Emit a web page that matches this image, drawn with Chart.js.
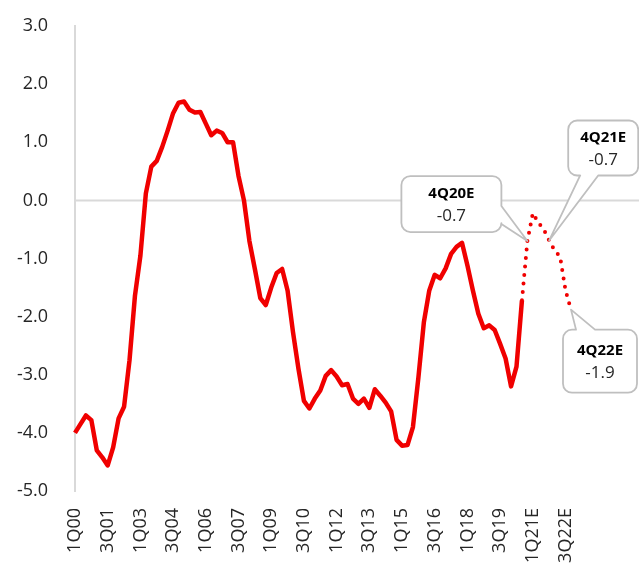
<!DOCTYPE html>
<html lang="en">
<head>
<meta charset="UTF-8">
<title>Chart</title>
<script src="https://cdn.jsdelivr.net/npm/chart.js"></script>
<style>
  body { margin: 0; background: #fff; }
  canvas { display: block; }
</style>
</head>
<body>
<canvas id="myChart" width="639" height="564"></canvas>
<script>
// quarters 1Q00 .. 4Q22E, estimates from 4Q20 onward
const firstEstimate = 83;
const quarters = [];
for (let y = 0; y <= 22; y++) {
    for (let q = 1; q <= 4; q++) {
        const i = quarters.length;
        quarters.push(q + 'Q' + String(y).padStart(2, '0') + (i >= firstEstimate ? 'E' : ''));
    }
}
const tickEvery = 6;

// actual, 1Q00 .. 3Q20
const actual = [
    -4.0, -3.85, -3.7, -3.78, -4.3, -4.42, -4.56, -4.25, -3.75, -3.55,
    -2.75, -1.64, -0.95, 0.12, 0.58, 0.68, 0.92, 1.2, 1.5, 1.68,
    1.7, 1.56, 1.51, 1.52, 1.32, 1.12, 1.2, 1.16, 1.0, 1.0,
    0.42, 0.0, -0.7, -1.18, -1.68, -1.8, -1.5, -1.25, -1.18, -1.55,
    -2.27, -2.9, -3.45, -3.58, -3.41, -3.27, -3.02, -2.92, -3.03, -3.18,
    -3.16, -3.41, -3.5, -3.41, -3.57, -3.25, -3.36, -3.48, -3.63, -4.12,
    -4.22, -4.21, -3.9, -3.05, -2.1, -1.55, -1.28, -1.34, -1.17, -0.92,
    -0.8, -0.73, -1.12, -1.55, -1.95, -2.2, -2.15, -2.23, -2.47, -2.72,
    -3.2, -2.86, -1.72
];
// forecast, 3Q20 (joins the actual line) .. 4Q22E
const forecastStart = 82;
const forecast = [-1.72, -0.7, -0.22, -0.38, -0.5, -0.69, -0.86, -0.97, -1.55, -1.88];

const callouts = [
    { index: 83, title: '4Q20E', value: '-0.7', dx: -126, dy: -65, w: 100, h: 56, side: 'right', base: [30, 48] },
    { index: 87, title: '4Q21E', value: '-0.7', dx: 19, dy: -120, w: 70, h: 55, side: 'bottom', base: [12, 30] },
    { index: 91, title: '4Q22E', value: '-1.9', dx: -8, dy: 20, w: 74, h: 63, side: 'top', base: [13, 32] }
];

const actualData = quarters.map((q, i) => i < actual.length ? actual[i] : null);
const forecastData = quarters.map((q, i) => i >= forecastStart ? forecast[i - forecastStart] : null);

const RED = '#f00000';
const GREY = '#d9d9d9';
const FONT = "'Open Sans', 'DejaVu Sans', sans-serif";

const zeroLine = {
    id: 'zeroLine',
    beforeDatasetsDraw(chart) {
        const { ctx, chartArea, scales } = chart;
        const y = scales.y.getPixelForValue(0);
        ctx.save();
        ctx.strokeStyle = GREY;
        ctx.lineWidth = 2;
        ctx.beginPath();
        ctx.moveTo(chartArea.left, y);
        ctx.lineTo(chart.width, y);
        ctx.stroke();
        ctx.restore();
    }
};

function calloutPath(ctx, x, y, w, h, r, side, base, tip) {
    ctx.beginPath();
    ctx.moveTo(x + r, y);
    if (side === 'top') {
        ctx.lineTo(x + base[0], y);
        ctx.lineTo(tip.x, tip.y);
        ctx.lineTo(x + base[1], y);
    }
    ctx.arcTo(x + w, y, x + w, y + h, r);
    if (side === 'right') {
        ctx.lineTo(x + w, y + base[0]);
        ctx.lineTo(tip.x, tip.y);
        ctx.lineTo(x + w, y + base[1]);
    }
    ctx.arcTo(x + w, y + h, x, y + h, r);
    if (side === 'bottom') {
        ctx.lineTo(x + base[1], y + h);
        ctx.lineTo(tip.x, tip.y);
        ctx.lineTo(x + base[0], y + h);
    }
    ctx.arcTo(x, y + h, x, y, r);
    ctx.arcTo(x, y, x + w, y, r);
    ctx.closePath();
}

const calloutLabels = {
    id: 'calloutLabels',
    afterDatasetsDraw(chart) {
        const { ctx, scales } = chart;
        ctx.save();
        callouts.forEach(c => {
            const v = c.index >= forecastStart ? forecastData[c.index] : actualData[c.index];
            const tip = { x: scales.x.getPixelForValue(c.index), y: scales.y.getPixelForValue(v) };
            const bx = tip.x + c.dx, by = tip.y + c.dy;
            calloutPath(ctx, bx, by, c.w, c.h, 9, c.side, c.base, tip);
            ctx.fillStyle = '#fff';
            ctx.fill();
            ctx.strokeStyle = '#bfbfbf';
            ctx.lineWidth = 1.8;
            ctx.lineJoin = 'round';
            ctx.stroke();
            ctx.textAlign = 'center';
            ctx.textBaseline = 'middle';
            ctx.fillStyle = '#000';
            ctx.font = 'bold 15px ' + FONT;
            ctx.fillText(c.title, bx + c.w / 2, by + c.h / 2 - 10);
            ctx.fillStyle = '#262626';
            ctx.font = '17px ' + FONT;
            ctx.fillText(c.value, bx + c.w / 2, by + c.h / 2 + 12);
        });
        ctx.restore();
    }
};

new Chart(document.getElementById('myChart'), {
    type: 'line',
    data: {
        labels: quarters,
        datasets: [{
            label: 'Actual',
            data: actualData,
            borderColor: RED,
            borderWidth: 4.5,
            borderJoinStyle: 'round',
            pointRadius: 0,
            tension: 0,
            spanGaps: false
        }, {
            label: 'Forecast',
            data: forecastData,
            borderColor: RED,
            borderWidth: 4,
            borderDash: [0, 8.5],
            borderCapStyle: 'round',
            pointRadius: 0,
            tension: 0
        }]
    },
    options: {
        responsive: false,
        animation: false,
        devicePixelRatio: 1,
        layout: { padding: { top: 26, right: 68, left: 0, bottom: 0 } },
        plugins: {
            legend: { display: false },
            tooltip: { enabled: false }
        },
        scales: {
            x: {
                grid: { display: false, drawTicks: false },
                border: { display: false },
                ticks: {
                    autoSkip: false,
                    maxRotation: 90,
                    minRotation: 90,
                    padding: 17,
                    color: '#262626',
                    font: { size: 18, family: FONT },
                    callback: function (value, i) {
                        return i % tickEvery === 0 ? this.getLabelForValue(value) : null;
                    }
                },
                afterFit: (scale) => { scale.height = 73; }
            },
            y: {
                min: -5,
                max: 3,
                grid: { display: false, drawTicks: false },
                border: { display: true, color: GREY, width: 2 },
                ticks: {
                    stepSize: 1,
                    padding: 27,
                    color: '#262626',
                    font: { size: 18, family: FONT },
                    callback: (v) => v.toFixed(1)
                },
                afterFit: (scale) => {
                    scale.width = 75;
                    // label padding is horizontal only, keep it out of the top/bottom room
                    scale.paddingTop = 11;
                    scale.paddingBottom = 11;
                }
            }
        }
    },
    plugins: [zeroLine, calloutLabels]
});
</script>
</body>
</html>
